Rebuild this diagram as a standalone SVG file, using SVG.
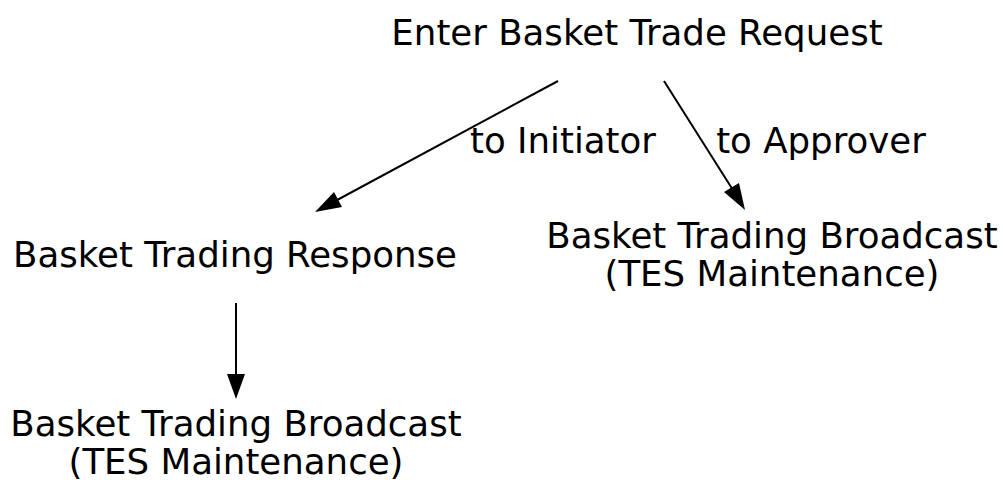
<svg xmlns="http://www.w3.org/2000/svg" width="1003" height="480" viewBox="0 0 1003 480">
<style>
text{font-family:"DejaVu Sans",sans-serif;font-size:35.6px;fill:#000;text-anchor:middle}
.e{stroke:#000;stroke-width:2;fill:none}
</style>
<rect width="1003" height="480" fill="#fff"/>
<g id="connectors">
<path class="e" d="M558,81 L326,206"/>
<path d="M315,212 L334,192 L342,207 z" fill="#000"/>
<path class="e" d="M664,81 L738,198"/>
<path d="M745,210 L724,192 L739,183 z" fill="#000"/>
<path class="e" d="M236,303 L236,382"/>
<path d="M236,399 L227,374 L245,374 z" fill="#000"/>
<text x="563" y="153">to Initiator</text>
<text x="821" y="153">to Approver</text>
</g>
<g id="n1"><text x="637" y="45">Enter Basket Trade Request</text></g>
<g id="n2"><text x="235" y="267">Basket Trading Response</text></g>
<g id="n3"><text x="772" y="248">Basket Trading Broadcast</text><text x="772" y="286">(TES Maintenance)</text></g>
<g id="n4"><text x="236" y="436">Basket Trading Broadcast</text><text x="236" y="474">(TES Maintenance)</text></g>
</svg>
